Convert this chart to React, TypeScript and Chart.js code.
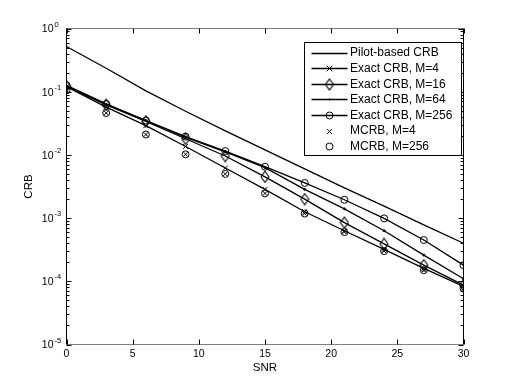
import React, { useEffect, useRef } from "react";
import { Chart, registerables } from "chart.js";

Chart.register(...registerables);

const snr = [0, 3, 6, 9, 12, 15, 18, 21, 24, 27, 30];
const pilotCRB = [0.52, 0.235, 0.103, 0.049, 0.024, 0.012, 0.006, 0.003, 0.00155, 0.00078, 0.0004];
const exactM4 = [0.12, 0.057, 0.029, 0.0136, 0.0062, 0.00285, 0.00126, 0.00063, 0.00032, 0.00016, 0.000083];
const exactM16 = [0.122, 0.062, 0.034, 0.018, 0.0096, 0.0045, 0.002, 0.00085, 0.00039, 0.00018, 0.000087];
const exactM64 = [0.124, 0.063, 0.035, 0.019, 0.0112, 0.0063, 0.00285, 0.0014, 0.00063, 0.00026, 0.00011];
const exactM256 = [0.126, 0.064, 0.035, 0.0195, 0.0115, 0.0065, 0.0036, 0.00195, 0.00099, 0.00045, 0.00018];
const mcrbM4 = [0.105, 0.046, 0.021, 0.0102, 0.005, 0.00246, 0.00118, 0.0006, 0.0003, 0.00015, 0.000077];
const mcrbM256 = [0.105, 0.046, 0.021, 0.0102, 0.005, 0.00246, 0.00118, 0.0006, 0.0003, 0.00015, 0.000077];

const xTicks = [0, 5, 10, 15, 20, 25, 30];
const yExponents = [0, -1, -2, -3, -4, -5];
const legendLabels = [
  "Pilot-based CRB",
  "Exact CRB, M=4",
  "Exact CRB, M=16",
  "Exact CRB, M=64",
  "Exact CRB, M=256",
  "MCRB, M=4",
  "MCRB, M=256",
];
const xTitle = "SNR";
const yTitle = "CRB";

const FONT = '"Liberation Sans", Arial, Helvetica, sans-serif';
const LW = 1.3;

function makeDiamond(): HTMLCanvasElement {
  const c = document.createElement("canvas");
  c.width = 10;
  c.height = 13;
  const g = c.getContext("2d")!;
  g.strokeStyle = "#000";
  g.lineWidth = 1.1;
  g.beginPath();
  g.moveTo(5, 1);
  g.lineTo(9, 6.5);
  g.lineTo(5, 12);
  g.lineTo(1, 6.5);
  g.closePath();
  g.stroke();
  return c;
}

const toXY = (ys: number[]) => snr.map((x, i) => ({ x, y: ys[i] }));

export default function App() {
  const ref = useRef<HTMLCanvasElement | null>(null);

  useEffect(() => {
    if (!ref.current) return;
    const diamond = makeDiamond();

    const legendStyles: { style: any; r: number; line: boolean }[] = [
      { style: false, r: 0, line: true },
      { style: "crossRot", r: 3.5, line: true },
      { style: diamond, r: 4, line: true },
      { style: "circle-dot", r: 1, line: true },
      { style: "circle", r: 3.5, line: true },
      { style: "crossRot", r: 3, line: false },
      { style: "circle", r: 3.5, line: false },
    ];

    const decor = {
      id: "decor",
      afterDraw(chart: any) {
        const { ctx, chartArea: a, scales } = chart;
        const xs = scales.x;
        const ys = scales.y;
        const L = a.left, R = a.right, T = a.top, B = a.bottom;
        ctx.save();
        ctx.lineWidth = 1;
        // box: top & bottom lighter, left & right black
        ctx.strokeStyle = "#808080";
        ctx.beginPath();
        ctx.moveTo(L, T);
        ctx.lineTo(R, T);
        ctx.moveTo(L, B);
        ctx.lineTo(R, B);
        ctx.stroke();
        ctx.strokeStyle = "#000";
        ctx.beginPath();
        ctx.moveTo(L, T);
        ctx.lineTo(L, B);
        ctx.moveTo(R, T);
        ctx.lineTo(R, B);
        // x ticks
        for (const v of xTicks) {
          const px = Math.round(xs.getPixelForValue(v)) + 0.5;
          ctx.moveTo(px, B);
          ctx.lineTo(px, B - 5);
          ctx.moveTo(px, T);
          ctx.lineTo(px, T + 5);
        }
        // y ticks
        for (const e of yExponents) {
          const py = Math.round(ys.getPixelForValue(Math.pow(10, e))) + 0.5;
          ctx.moveTo(L, py);
          ctx.lineTo(L + 5, py);
          ctx.moveTo(R, py);
          ctx.lineTo(R - 5, py);
          if (e > -5) {
            for (let k = 2; k <= 9; k++) {
              const pm = Math.round(ys.getPixelForValue(k * Math.pow(10, e - 1))) + 0.5;
              ctx.moveTo(L, pm);
              ctx.lineTo(L + 3, pm);
              ctx.moveTo(R, pm);
              ctx.lineTo(R - 3, pm);
            }
          }
        }
        ctx.stroke();

        // labels
        ctx.fillStyle = "#000";
        ctx.font = `10.5px ${FONT}`;
        ctx.textAlign = "center";
        ctx.textBaseline = "middle";
        for (const v of xTicks) {
          ctx.fillText(String(v), xs.getPixelForValue(v), B + 10);
        }
        for (const e of yExponents) {
          const py = ys.getPixelForValue(Math.pow(10, e));
          ctx.font = `10.5px ${FONT}`;
          ctx.textAlign = "right";
          ctx.fillText("10", L - 13, py + 1);
          ctx.font = `7.5px ${FONT}`;
          ctx.textAlign = "left";
          ctx.fillText(String(e), L - 12, py - 4);
        }
        ctx.font = `11.5px ${FONT}`;
        ctx.textAlign = "center";
        ctx.fillText(xTitle, (L + R) / 2, 368);
        ctx.save();
        ctx.translate(29, (T + B) / 2);
        ctx.rotate(-Math.PI / 2);
        ctx.fillText(yTitle, 0, 0);
        ctx.restore();

        // legend
        const bx = 304.5, by = 42.5, bw = 157, bh = 113;
        ctx.fillStyle = "#fff";
        ctx.fillRect(bx, by, bw, bh);
        ctx.strokeStyle = "#000";
        ctx.lineWidth = 1;
        ctx.strokeRect(bx, by, bw, bh);
        ctx.font = `12px ${FONT}`;
        ctx.textAlign = "left";
        ctx.textBaseline = "middle";
        legendLabels.forEach((lab, i) => {
          const cy = 52.5 + i * 15.6;
          const st = legendStyles[i];
          ctx.strokeStyle = "#000";
          ctx.lineWidth = LW;
          const my = Math.round(cy) + 0.5;
          if (st.line) {
            ctx.beginPath();
            ctx.moveTo(311.5, my);
            ctx.lineTo(347.5, my);
            ctx.stroke();
          }
          const mx = 329.5;
          ctx.lineWidth = 1;
          if (st.style === "circle") {
            ctx.beginPath();
            ctx.arc(mx, my, st.r, 0, Math.PI * 2);
            ctx.stroke();
          } else if (st.style === "crossRot") {
            ctx.beginPath();
            ctx.moveTo(mx - st.r * 0.8, my - st.r * 0.8);
            ctx.lineTo(mx + st.r * 0.8, my + st.r * 0.8);
            ctx.moveTo(mx - st.r * 0.8, my + st.r * 0.8);
            ctx.lineTo(mx + st.r * 0.8, my - st.r * 0.8);
            ctx.stroke();
          } else if (st.style === "circle-dot") {
            ctx.fillStyle = "#000";
            ctx.beginPath();
            ctx.arc(mx, my, 1, 0, Math.PI * 2);
            ctx.fill();
          } else if (st.style instanceof HTMLCanvasElement) {
            ctx.drawImage(st.style, mx - st.style.width / 2, my - st.style.height / 2);
          }
          ctx.fillStyle = "#000";
          ctx.fillText(lab, 350, cy + 0.5);
        });
        ctx.restore();
      },
    };

    const base = {
      borderColor: "#000",
      backgroundColor: "rgba(0,0,0,0)",
      pointBorderColor: "#000",
      pointBackgroundColor: "rgba(0,0,0,0)",
      borderWidth: LW,
      pointBorderWidth: 1,
      tension: 0,
      fill: false,
    };

    const chart = new Chart(ref.current, {
      type: "line",
      data: {
        datasets: [
          { ...base, label: legendLabels[0], data: toXY(pilotCRB), pointRadius: 0 },
          { ...base, label: legendLabels[1], data: toXY(exactM4), pointStyle: "crossRot", pointRadius: 3.5 },
          { ...base, label: legendLabels[2], data: toXY(exactM16), pointStyle: diamond as any, pointRadius: 4 },
          { ...base, label: legendLabels[3], data: toXY(exactM64), pointStyle: "circle", pointRadius: 1, pointBackgroundColor: "#000" },
          { ...base, label: legendLabels[4], data: toXY(exactM256), pointStyle: "circle", pointRadius: 3.5 },
          { ...base, label: legendLabels[5], data: toXY(mcrbM4), showLine: false, pointStyle: "crossRot", pointRadius: 3 },
          { ...base, label: legendLabels[6], data: toXY(mcrbM256), showLine: false, pointStyle: "circle", pointRadius: 3.5 },
        ],
      },
      options: {
        responsive: false,
        animation: false,
        devicePixelRatio: 1,
        layout: { padding: { left: 66.5, right: 48.5, top: 28.5, bottom: 43.5 } },
        plugins: { legend: { display: false }, tooltip: { enabled: false } },
        scales: {
          x: { type: "linear", min: 0, max: 30, display: false },
          y: { type: "logarithmic", min: 1e-5, max: 1, display: false },
        },
      },
      plugins: [decor],
    });
    return () => chart.destroy();
  }, []);

  return (
    <div style={{ position: "fixed", left: 0, top: 0, width: 512, height: 388, background: "#fff" }}>
      <canvas ref={ref} width={512} height={388} />
    </div>
  );
}
